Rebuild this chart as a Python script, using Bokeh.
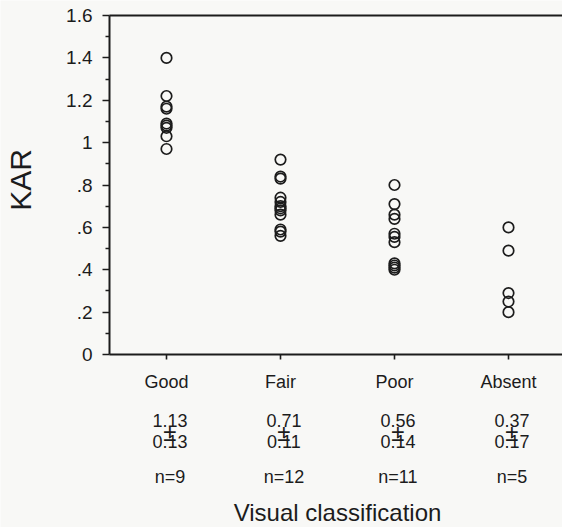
import math
from bokeh.plotting import figure
from bokeh.models import Range1d, LinearAxis, FixedTicker, Label
from bokeh.embed import file_html
from bokeh.resources import INLINE

# ---- data ----
categories = ["Good", "Fair", "Poor", "Absent"]
good = [1.40, 1.22, 1.17, 1.16, 1.09, 1.08, 1.07, 1.03, 0.97]
fair = [0.92, 0.84, 0.83, 0.74, 0.72, 0.70, 0.69, 0.68, 0.66, 0.59, 0.58, 0.56]
poor = [0.80, 0.71, 0.66, 0.64, 0.57, 0.555, 0.53, 0.43, 0.42, 0.41, 0.40]
absent = [0.60, 0.49, 0.29, 0.25, 0.20]
means = ["1.13", "0.71", "0.56", "0.37"]
sds = ["0.13", "0.11", "0.14", "0.17"]
counts = ["n=9", "n=12", "n=11", "n=5"]
y_ticks = [0, 0.2, 0.4, 0.6, 0.8, 1.0, 1.2, 1.4, 1.6]
y_tick_labels = ["0", ".2", ".4", ".6", ".8", "1", "1.2", "1.4", "1.6"]
y_minor = [0.1, 0.3, 0.5, 0.7, 0.9, 1.1, 1.3, 1.5]

FONT = "Liberation Sans"
INK = "#1c1c1c"
BG = "#f8f8f6"

W, H = 562, 527
TOP = 15
LEFT_PX = 109
YMIN, YMAX = 0.0, 1.6
PX_PER_Y = 339 / 1.6
PX_PER_X = 114
y_top = YMAX + TOP / PX_PER_Y
y_bottom = YMAX - (H - TOP) / PX_PER_Y
x_left = -LEFT_PX / PX_PER_X
x_right = (W - LEFT_PX) / PX_PER_X

p = figure(width=W, height=H, output_backend="svg", toolbar_location=None,
           x_range=Range1d(x_left, x_right), y_range=Range1d(y_bottom, y_top),
           min_border_left=0, min_border_right=0, min_border_top=0,
           min_border_bottom=0, x_axis_location=None, y_axis_location=None)
p.background_fill_color = BG
p.border_fill_color = BG
p.outline_line_color = None
p.grid.visible = False

# y axis, fixed at x = 0 inside the frame
ya = LinearAxis(ticker=FixedTicker(ticks=y_ticks, minor_ticks=y_minor),
                bounds=(YMIN, YMAX), fixed_location=0)
ya.major_label_overrides = dict(zip(y_ticks, y_tick_labels))
ya.major_label_text_font = FONT
ya.major_label_text_font_size = "19px"
ya.major_label_text_color = INK
ya.major_label_standoff = 10
ya.major_tick_out = 7
ya.major_tick_in = 0
ya.minor_tick_out = 4
ya.minor_tick_in = 0
ya.axis_line_width = 2
ya.axis_line_color = INK
ya.major_tick_line_width = 1.6
ya.major_tick_line_color = INK
ya.minor_tick_line_width = 1.6
ya.minor_tick_line_color = INK
p.add_layout(ya, "left")

# x axis, fixed at y = 0 inside the frame
xpos = [i + 0.5 for i in range(len(categories))]
xa = LinearAxis(ticker=FixedTicker(ticks=xpos, minor_ticks=[]),
                fixed_location=YMIN, bounds=(0, x_right))
xa.major_label_overrides = dict(zip(xpos, categories))
xa.major_label_text_font = FONT
xa.major_label_text_font_size = "18px"
xa.major_label_text_color = INK
xa.major_label_standoff = 12
xa.major_tick_out = 5
xa.major_tick_in = 0
xa.axis_line_width = 2
xa.axis_line_color = INK
xa.major_tick_line_width = 1.6
xa.major_tick_line_color = INK
p.add_layout(xa, "below")

# top line at y = 1.6
ta = LinearAxis(ticker=FixedTicker(ticks=[], minor_ticks=[]), bounds=(0, x_right),
                fixed_location=YMAX)
ta.axis_line_width = 2
ta.axis_line_color = INK
ta.major_tick_line_color = None
ta.minor_tick_line_color = None
p.add_layout(ta, "above")

# points
groups = [good, fair, poor, absent]
xs, ys = [], []
for xp, g in zip(xpos, groups):
    xs += [xp] * len(g)
    ys += g
p.scatter(xs, ys, size=10.5, marker="circle", fill_color=None,
          line_color=INK, line_width=1.7)

# y axis title
p.add_layout(Label(x=-89 / PX_PER_X, y=(YMAX + YMIN) / 2 + 5 / PX_PER_Y,
                   text="KAR", angle=math.pi / 2, text_align="center",
                   text_baseline="middle", text_font=FONT, text_font_size="30px",
                   text_color=INK))

# stats text below the axis
def y_at(offset_px):
    return YMIN - offset_px / PX_PER_Y

for xp, m, s, n in zip(xpos, means, sds, counts):
    for txt, off, fs in [(m, 66, "18px"), ("\u00b1", 78, "24px"), (s, 87, "18px"),
                         (n, 122.5, "18px")]:
        p.add_layout(Label(x=xp + 0.03, y=y_at(off), text=txt, text_align="center",
                           text_baseline="middle", text_font=FONT,
                           text_font_size=fs, text_color=INK))

p.add_layout(Label(x=2.0, y=y_at(158), text="Visual classification",
                   text_align="center", text_baseline="middle", text_font=FONT,
                   text_font_size="24px", text_color=INK))

open("out.html", "w").write(file_html(p, INLINE))
